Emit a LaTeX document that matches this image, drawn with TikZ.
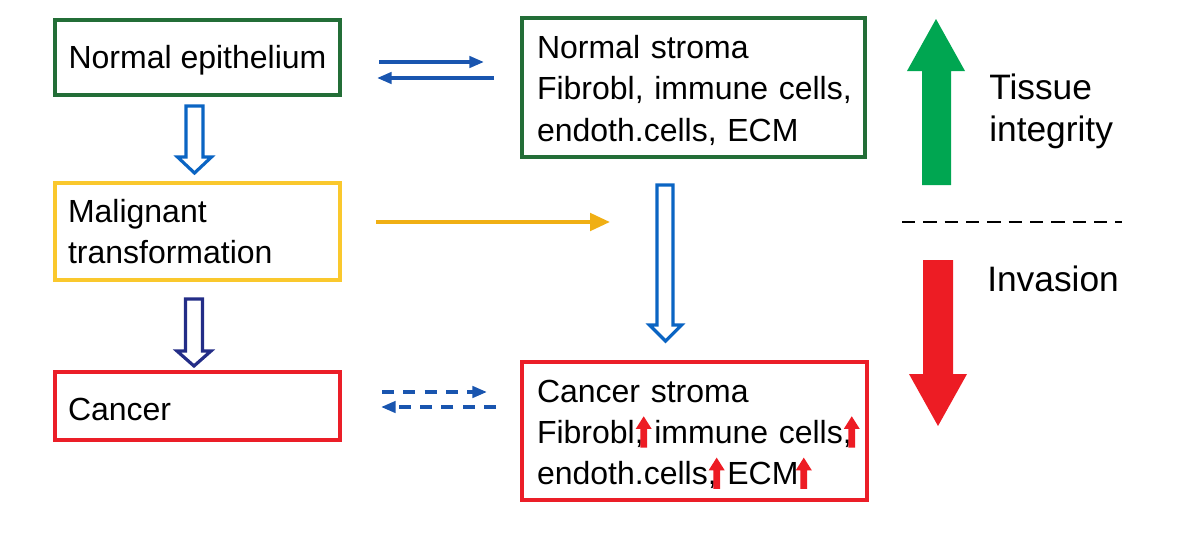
\documentclass[tikz,border=0pt]{standalone}
\usepackage{fontspec}
\setmainfont{Liberation Sans}
\usetikzlibrary{arrows.meta,calc}
\definecolor{bgreen}{RGB}{35,110,55}
\definecolor{byellow}{RGB}{250,200,45}
\definecolor{bred}{RGB}{235,30,40}
\definecolor{tblue}{RGB}{25,85,175}
\definecolor{hblue}{RGB}{10,100,195}
\definecolor{navy}{RGB}{35,45,135}
\definecolor{arryellow}{RGB}{240,175,20}
\definecolor{biggreen}{RGB}{0,166,81}
\definecolor{bigred}{RGB}{237,28,36}
\newcommand\redup{\tikz[baseline=0pt]\fill[bigred] (-2.5pt,-3pt) -- (-2.5pt,11pt) -- (-6pt,11pt) -- (0pt,20.5pt) -- (6pt,11pt) -- (2.5pt,11pt) -- (2.5pt,-3pt) -- cycle;}
\newcommand\upmark{\makebox[0pt]{\redup}}
\begin{document}
\begin{tikzpicture}[x=0.75pt,y=-0.75pt, font=\fontsize{24}{31}\selectfont,
 box/.style={draw=#1, line width=3pt, inner xsep=9.75pt, inner ysep=0pt, align=left},
 thinarrow/.style={draw=tblue, line width=2.6pt, -{Triangle[length=11pt,width=8.5pt]}},
 hollow/.style={draw=#1, line width=2.4pt, fill=white, line join=miter},
 sidetext/.style={font=\fontsize{26.5}{31.5}\selectfont, align=left, anchor=west, inner sep=0pt}]
\useasboundingbox (0,0) rectangle (1200,536);

\node[box=bgreen, minimum width=213.75pt, minimum height=56.25pt, align=center] (ne) at (197.5,57.5) {\rule{0pt}{22pt}Normal epithelium};
\node[box=byellow, text width=194.25pt, minimum height=72.75pt] (mt) at (197.5,231.5) {Malignant\\transformation};
\node[box=bred, text width=194.25pt, minimum height=51pt] (ca) at (197.5,406) {\rule{0pt}{22pt}Cancer};
\node[box=bgreen, inner xsep=11.25pt, text width=234.75pt, minimum height=104.25pt] (ns) at (693.5,87.5) {\rule{0pt}{21.5pt}Normal stroma\\\mbox{Fibrobl, immune cells,}\\\mbox{endoth.cells, ECM}};
\node[box=bred, inner xsep=11.25pt, text width=236.25pt, minimum height=103.5pt] (cs) at (694.5,431) {\rule{0pt}{22pt}Cancer stroma\\\mbox{Fibrobl,\upmark{} immune cells,\upmark}\\\mbox{endoth.cells,\upmark{} ECM\hspace{4pt}\upmark}};

\node[sidetext] (ti) at (989,111) {Tissue\\integrity};
\node[sidetext] (inv) at (987,279) {Invasion};

% thin arrows between epithelium and stroma
\draw[thinarrow] ($(ne.east)+(37,4.5)$) -- ($(ns.west)+(-36,-25.5)$);
\draw[thinarrow] ($(ns.west)+(-26,-9.5)$) -- ($(ne.east)+(35,20.5)$);
% dashed arrows between cancer and cancer stroma
\draw[thinarrow, dash pattern=on 9pt off 7pt] ($(ca.east)+(40,-14)$) -- ($(cs.west)+(-33,-39)$);
\draw[thinarrow, dash pattern=on 9pt off 7pt] ($(cs.west)+(-24,-24)$) -- ($(ca.east)+(39,1)$);
% yellow arrow
\coordinate (ye) at (610,222);
\draw[draw=arryellow, line width=3pt, -{Triangle[length=15pt,width=13pt]}] ($(mt.east)+(34,-9.5)$) -- (ye);

% hollow arrows
\draw[hollow=hblue] (186,106) -- (186,157) -- (177.5,157) -- (194.5,173) -- (211.5,157) -- (203,157) -- (203,106) -- cycle;
\draw[hollow=navy] (185.5,299) -- (185.5,351) -- (177,351) -- (194,366) -- (211,351) -- (202.5,351) -- (202.5,299) -- cycle;
\draw[hollow=hblue] (657,185) -- (657,325) -- (649.5,325) -- (665.5,341) -- (681.5,325) -- (673,325) -- (673,185) -- cycle;

% big side arrows and separator
\fill[biggreen] (922,185) -- (922,71) -- (907,71) -- (936,19) -- (965,71) -- (951,71) -- (951,185) -- cycle;
\fill[bigred] (923,260) -- (923,374) -- (909,374) -- (938,426) -- (967,374) -- (953,374) -- (953,260) -- cycle;
\draw[line width=2.2pt, dash pattern=on 10pt off 6pt] (902,222) -- (1122,222);
\end{tikzpicture}
\end{document}
